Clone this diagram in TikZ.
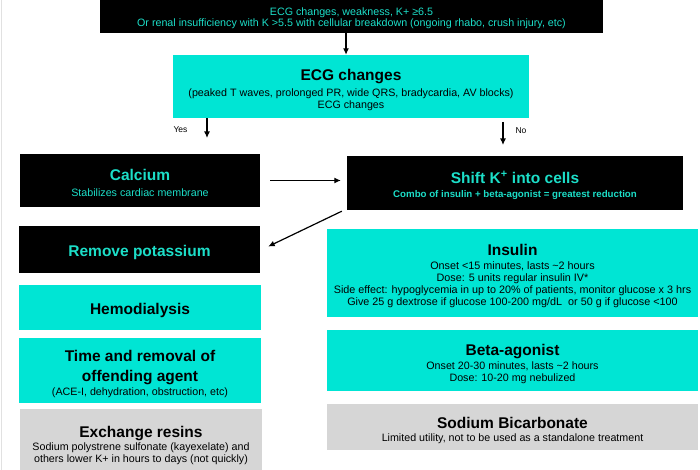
\documentclass[tikz,border=0pt]{standalone}
\usepackage{fontspec}
\setmainfont{Liberation Sans}
\usetikzlibrary{arrows.meta}
\definecolor{tealfill}{RGB}{0,229,212}
\definecolor{tealtext}{RGB}{28,222,200}
\definecolor{greyfill}{RGB}{214,214,214}
\definecolor{edgegrey}{RGB}{225,225,225}
\newcommand\boxtitle[1]{{\fontsize{15.5}{18}\selectfont\bfseries #1}}
\newcommand\topstrut[1]{\rule{0pt}{#1}}
\tikzset{
  base/.style={rectangle, inner sep=0pt, align=center, font=\fontsize{10.7}{12}\selectfont},
  darkbox/.style={base, fill=black, text=tealtext},
  tealbox/.style={base, fill=tealfill, text=black},
  greybox/.style={base, fill=greyfill, text=black},
  arr/.style={line width=1.2pt, -{Latex[length=6.5pt,width=6pt]}},
  lbl/.style={inner sep=0pt, font=\fontsize{8.5}{10}\selectfont}
}
\begin{document}
\begin{tikzpicture}[x=1pt,y=-1pt]
\useasboundingbox (0,0) rectangle (700,470);
\clip (0,0) rectangle (700,470);
\fill[white] (0,0) rectangle (700,470);
\draw[edgegrey, line width=1pt] (1.5,0) -- (1.5,470);
% top
\node[darkbox, minimum width=503pt, minimum height=35pt, font=\fontsize{10.7}{11.6}\selectfont] (top) at (351.5,15.5)
  {\topstrut{13.5pt}ECG changes, weakness, K+ ≥6.5\\Or renal insufficiency with K >5.5 with cellular breakdown (ongoing rhabo, crush injury, etc)};
\node[tealbox, minimum width=356pt, minimum height=63pt] (ecg) at (351,86.5)
  {\topstrut{18pt}\boxtitle{ECG changes}\\[3.5pt](peaked T waves, prolonged PR, wide QRS, bradycardia, AV blocks)\\ECG changes};
\node[darkbox, minimum width=240pt, minimum height=53pt] (calc) at (140,180.5)
  {\topstrut{16pt}\boxtitle{Calcium}\\[3.5pt]Stabilizes cardiac membrane};
\node[darkbox, minimum width=336pt, minimum height=54pt] (shift) at (515,183)
  {\topstrut{16.5pt}\boxtitle{Shift K\textsuperscript{+} into cells}\\[2pt]{\fontsize{9.7}{12}\selectfont\bfseries Combo of insulin + beta-agonist = greatest reduction}};
\node[darkbox, minimum width=241pt, minimum height=47pt] (remove) at (139.5,249.5)
  {\topstrut{17pt}\boxtitle{Remove potassium}};
\node[tealbox, minimum width=242pt, minimum height=45pt] (hemo) at (140,307.5)
  {\topstrut{17pt}\boxtitle{Hemodialysis}};
\node[tealbox, minimum width=242pt, minimum height=65pt] (time) at (140,370.5)
  {\topstrut{18pt}\boxtitle{Time and removal of}\\[8pt]\boxtitle{offending agent}\\[1.5pt](ACE-I, dehydration, obstruction, etc)};
\node[greybox, minimum width=242pt, minimum height=67pt] (resin) at (141,442.5)
  {\topstrut{17pt}\boxtitle{Exchange resins}\\[1.5pt]Sodium polystrene sulfonate (kayexelate) and\\others lower K+ in hours to days (not quickly)};
\node[tealbox, minimum width=371pt, minimum height=88pt, font=\fontsize{10.8}{12.3}\selectfont] (ins) at (512.5,273)
  {\topstrut{18pt}\boxtitle{Insulin}\\[1pt]Onset <15 minutes, lasts \textasciitilde 2 hours\\Dose: 5 units regular insulin IV*\\Side effect: hypoglycemia in up to 20\% of patients, monitor glucose x 3 hrs\\Give 25 g dextrose if glucose 100-200 mg/dL\ \ or 50 g if glucose <100};
\node[tealbox, minimum width=371pt, minimum height=61pt] (beta) at (512.5,360.5)
  {\topstrut{18pt}\boxtitle{Beta-agonist}\\[1.5pt]Onset 20-30 minutes, lasts \textasciitilde 2 hours\\Dose: 10-20 mg nebulized};
\node[greybox, minimum width=371pt, minimum height=46pt] (soda) at (512.5,427)
  {\topstrut{18pt}\boxtitle{Sodium Bicarbonate}\\[1.5pt]Limited utility, not to be used as a standalone treatment};
% connectors
\coordinate (ax) at (346,0);
\coordinate (yx) at (207,0);
\coordinate (yesEnd) at (207,138);
\coordinate (noStart) at (503,122);
\coordinate (noEnd) at (503,145);
\draw[arr] (top.south -| ax) -- (ecg.north -| ax);
\draw[arr] (ecg.south -| yx) -- (yesEnd);
\draw[arr] (noStart) -- (noEnd);
\node[lbl] (yes) at (180.5,130) {Yes};
\node[lbl] (no) at (521,131) {No};
\draw[arr] ([xshift=10pt]calc.east) -- ([xshift=-6pt]shift.west |- calc.east);
\draw[arr] ([xshift=-5pt,yshift=-1pt]shift.south west) -- ([xshift=8pt,yshift=3pt]remove.east);
\end{tikzpicture}
\end{document}
